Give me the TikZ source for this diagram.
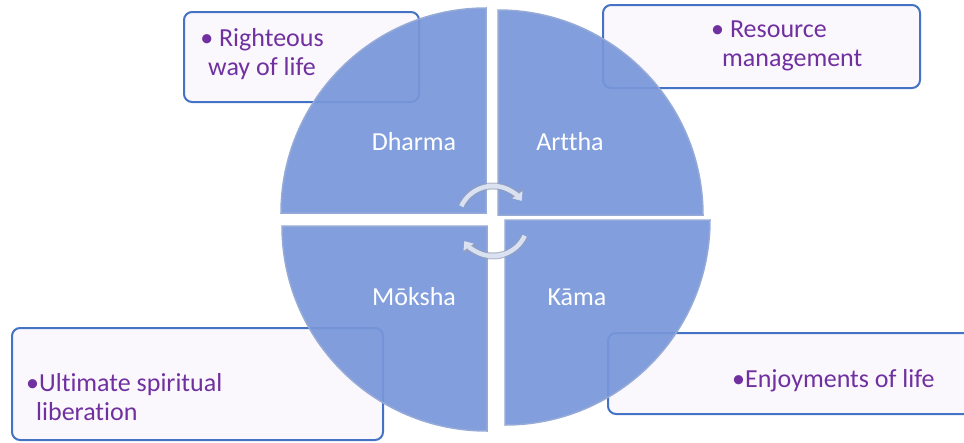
\documentclass[tikz,border=0pt]{standalone}
\usepackage{fontspec}
\setmainfont{Carlito}[Ligatures=CommonOff]
\usetikzlibrary{arrows.meta}
\definecolor{quad}{RGB}{120,151,217}
\definecolor{quadedge}{RGB}{150,170,215}
\definecolor{boxline}{RGB}{68,114,196}
\definecolor{boxfill}{RGB}{251,248,253}
\definecolor{note}{RGB}{112,48,160}
\definecolor{ring}{RGB}{218,226,242}
\definecolor{ringedge}{RGB}{150,160,185}
\begin{document}
\begin{tikzpicture}[x=1pt, y=-1pt,
    quadrant/.style={fill=quad, draw=quadedge, line width=1.5pt, fill opacity=0.93},
    notebox/.style={draw=boxline, line width=2pt, fill=boxfill, rounded corners=8pt, inner sep=0pt},
    notetext/.style={text=note, font=\fontsize{26}{29}\selectfont, inner sep=0pt},
    seglabel/.style={text=white, font=\fontsize{26}{29}\selectfont, inner sep=0pt, anchor=base},
    ringedge/.style={line width=7pt, draw=ringedge, draw opacity=0.7, -{Triangle[width=16pt,length=10pt]}},
    ringarrow/.style={line width=4.5pt, draw=ring, -{Triangle[width=12pt,length=7.5pt]}}]
    \useasboundingbox (0,0) rectangle (964,442);

    % Boxes
    \node[notebox, minimum width=235, minimum height=90] (dharmabox) at (301.5,57) {};
    \node[notebox, minimum width=317, minimum height=83] (artthabox) at (761.5,46.5) {};
    \node[notebox, minimum width=371, minimum height=112] (mokshabox) at (197.5,384) {};
    \node[notebox, minimum width=367, minimum height=81] (kamabox) at (791.5,373.5) {};

    % Quadrants
    \filldraw[quadrant] (486,213) -- ++(-205,0) arc[start angle=180, end angle=270, radius=205] -- cycle;
    \filldraw[quadrant] (498,215) -- ++(0,-205) arc[start angle=270, end angle=360, radius=205] -- cycle;
    \filldraw[quadrant] (505,220) -- ++(205,0) arc[start angle=0, end angle=90, radius=205] -- cycle;
    \filldraw[quadrant] (487,226) -- ++(0,205) arc[start angle=90, end angle=180, radius=205] -- cycle;

    % Cycle arrows
    \coordinate (hub) at (493,221);
    \draw[ringedge] ([shift={(205:35)}]hub) arc[start angle=205, end angle=325, radius=35];
    \draw[ringarrow] ([shift={(205:35)}]hub) arc[start angle=205, end angle=325, radius=35];
    \draw[ringedge] ([shift={(25:35)}]hub) arc[start angle=25, end angle=145, radius=35];
    \draw[ringarrow] ([shift={(25:35)}]hub) arc[start angle=25, end angle=145, radius=35];

    % Labels
    \node[seglabel] (dharma) at (414,150) {Dharma};
    \node[seglabel] (arttha) at (570,150) {Arttha};
    \node[seglabel] (moksha) at (414,305) {Mōksha};
    \node[seglabel] (kama) at (577,305) {Kāma};

    % Notes
    \node[notetext, align=center] (dharmanote) at (262,54) {\textbullet\ Righteous\\way of life};
    \node[notetext, align=left, anchor=west] (artthanote) at (711,46) {\textbullet\ Resource\\\hspace*{11pt}management};
    \node[notetext, align=left, anchor=west] (mokshanote) at (26,397) {\textbullet Ultimate spiritual\\\hspace*{10pt}liberation};
    \node[notetext, anchor=base west] (kamanote) at (732,387) {\textbullet Enjoyments of life};
\end{tikzpicture}
\end{document}
